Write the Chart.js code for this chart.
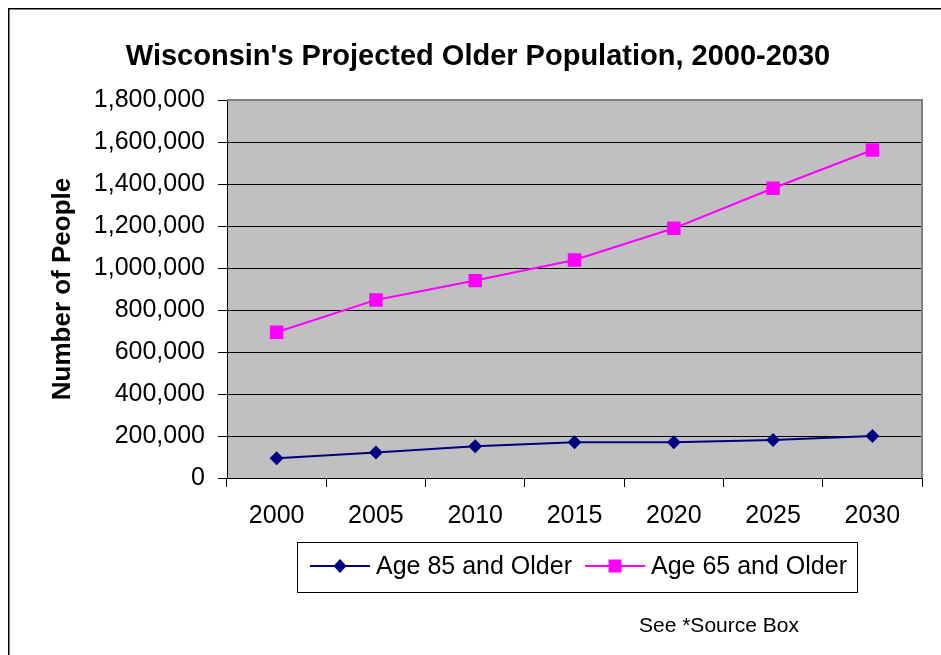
<!DOCTYPE html>
<html>
<head>
<meta charset="utf-8">
<script src="https://cdn.jsdelivr.net/npm/chart.js@4.4.0/dist/chart.umd.min.js"></script>
<style>
  html, body { margin: 0; padding: 0; background: #fff; }
  #wrap { width: 941px; height: 655px; }
</style>
</head>
<body>
<div id="wrap"><canvas id="chart" width="941" height="655"></canvas></div>
<script>
const years = ['2000', '2005', '2010', '2015', '2020', '2025', '2030'];
const age85 = [94000, 122000, 151000, 170000, 170000, 181000, 200000];
const age65 = [694000, 848000, 940000, 1038000, 1189000, 1380000, 1562000];
const seriesNames = ['Age 85 and Older', 'Age 65 and Older'];
const chartTitle = "Wisconsin's Projected Older Population, 2000-2030";
const yTitle = 'Number of People';
const sourceNote = 'See *Source Box';

const FONT = "'Liberation Sans', Arial, sans-serif";

// gray plot area + frame around the whole chart
const background = {
  id: 'background',
  beforeDraw(chart) {
    const { ctx, chartArea: a } = chart;
    ctx.save();
    ctx.fillStyle = '#fff';
    ctx.fillRect(0, 0, chart.width, chart.height);
    ctx.strokeStyle = '#000';
    ctx.lineWidth = 1.5;
    ctx.strokeRect(8.75, 8.75, chart.width + 20, chart.height + 20);
    ctx.fillStyle = '#C0C0C0';
    ctx.fillRect(a.left, a.top, a.right - a.left, a.bottom - a.top);
    ctx.restore();
  },
  beforeDatasetsDraw(chart) {
    const { ctx, chartArea: a } = chart;
    ctx.save();
    ctx.strokeStyle = '#808080';
    ctx.lineWidth = 2;
    ctx.beginPath();
    ctx.moveTo(a.left, a.top);
    ctx.lineTo(a.right, a.top);
    ctx.lineTo(a.right, a.bottom);
    ctx.stroke();
    ctx.restore();
  }
};

// excel style legend box with line + marker samples, and the source note
const legendBox = {
  id: 'legendBox',
  afterDraw(chart) {
    const ctx = chart.ctx;
    ctx.save();
    ctx.strokeStyle = '#000';
    ctx.lineWidth = 1;
    ctx.strokeRect(297.5, 542.5, 560, 50);
    const y = 566;
    const items = [{ x: 310 }, { x: 585 }];
    chart.data.datasets.forEach((ds, i) => {
      const x0 = items[i].x;
      ctx.strokeStyle = ds.borderColor;
      ctx.lineWidth = 2;
      ctx.beginPath();
      ctx.moveTo(x0, y);
      ctx.lineTo(x0 + 60, y);
      ctx.stroke();
      ctx.fillStyle = ds.backgroundColor;
      const cx = x0 + 30;
      if (ds.pointStyle === 'rectRot') {
        ctx.beginPath();
        ctx.moveTo(cx, y - 7);
        ctx.lineTo(cx + 6.5, y);
        ctx.lineTo(cx, y + 7);
        ctx.lineTo(cx - 6.5, y);
        ctx.closePath();
        ctx.fill();
      } else {
        ctx.fillRect(cx - 6.5, y - 6.5, 13, 13);
      }
      ctx.fillStyle = '#000';
      ctx.font = '25px ' + FONT;
      ctx.textBaseline = 'middle';
      ctx.textAlign = 'left';
      ctx.fillText(ds.label, x0 + 66, y + 1);
    });
    ctx.font = '21px ' + FONT;
    ctx.fillText(sourceNote, 639, 626);
    ctx.restore();
  }
};

new Chart(document.getElementById('chart'), {
  type: 'line',
  data: {
    labels: years,
    datasets: [
      {
        label: seriesNames[0],
        data: age85,
        borderColor: '#000080',
        backgroundColor: '#000080',
        borderWidth: 2,
        pointStyle: 'rectRot',
        pointRadius: 7,
        pointBorderWidth: 0,
        tension: 0
      },
      {
        label: seriesNames[1],
        data: age65,
        borderColor: '#FF00FF',
        backgroundColor: '#FF00FF',
        borderWidth: 2,
        pointStyle: 'rect',
        pointRadius: 9.5,
        pointBorderWidth: 0,
        tension: 0
      }
    ]
  },
  options: {
    responsive: false,
    animation: false,
    layout: { padding: { left: 34, right: 19, top: 0, bottom: 117 } },
    plugins: {
      legend: { display: false },
      tooltip: { enabled: false },
      title: {
        display: true,
        text: chartTitle,
        color: '#000',
        font: { family: FONT, size: 29, weight: 'bold', lineHeight: 1.2 },
        padding: { top: 40, bottom: 25.2 }
      }
    },
    scales: {
      x: {
        offset: true,
        afterFit(scale) { scale.height = 60; },
        grid: {
          offset: true,
          drawOnChartArea: false,
          drawTicks: true,
          tickLength: 9,
          color: '#000',
          tickColor: '#000'
        },
        border: { color: '#000', width: 1 },
        ticks: {
          color: '#000',
          padding: 14,
          maxRotation: 0,
          font: { family: FONT, size: 25 }
        }
      },
      y: {
        min: 0,
        max: 1800000,
        afterFit(scale) { scale.width = 193; },
        grid: {
          color: '#000',
          tickColor: '#000',
          tickLength: 9,
          lineWidth: 1
        },
        border: { color: '#000', width: 1 },
        ticks: {
          stepSize: 200000,
          color: '#000',
          padding: 13,
          font: { family: FONT, size: 25 },
          callback: v => v.toLocaleString('en-US')
        },
        title: {
          display: true,
          text: yTitle,
          color: '#000',
          padding: { top: 13, bottom: 0 },
          font: { family: FONT, size: 26, weight: 'bold', lineHeight: 1.2 }
        }
      }
    }
  },
  plugins: [background, legendBox]
});
</script>
</body>
</html>
